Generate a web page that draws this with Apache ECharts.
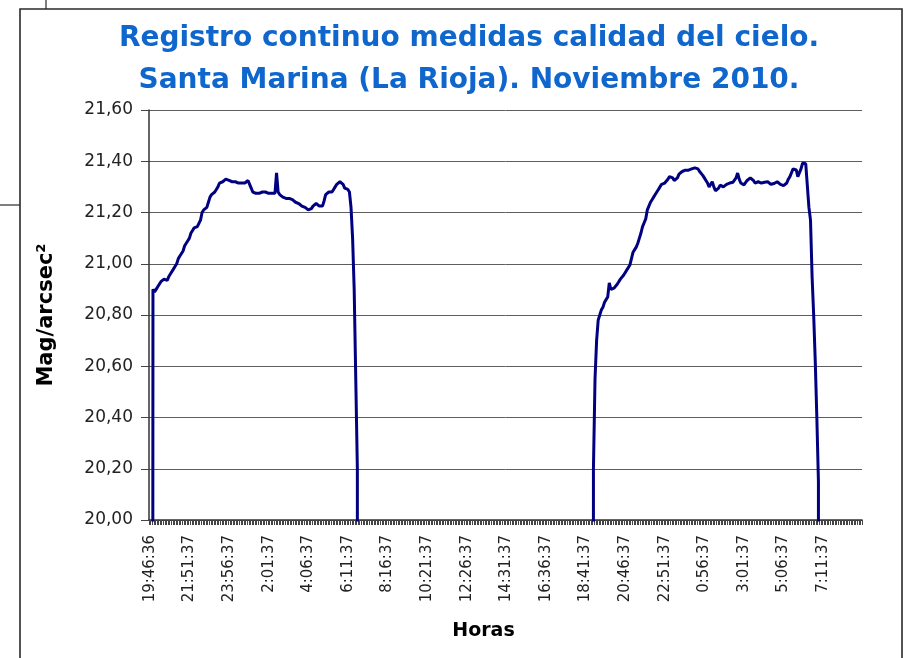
<!DOCTYPE html>
<html>
<head>
<meta charset="utf-8">
<script src="https://cdn.jsdelivr.net/npm/echarts@6/dist/echarts.min.js"></script>
<style>
html,body{margin:0;padding:0;background:#fff;}
#chart{width:907px;height:658px;}
</style>
</head>
<body>
<div id="chart"></div>
<script>
// ---- Data -------------------------------------------------------------
const titleLines = ['Registro continuo medidas calidad del cielo.', 'Santa Marina (La Rioja). Noviembre 2010.'];
const yTickValues = [20.00, 20.20, 20.40, 20.60, 20.80, 21.00, 21.20, 21.40, 21.60];
const firstCategory = '19:46:36';      // first reading
const secondCategory = '19:51:37';     // readings then every 5 minutes
const stepMinutes = 5;
const categoryCount = 450;

// Night 1 (Mag/arcsec2), starting at the first category; 0 = daylight reading (off scale)
const night1Start = '19:46:36';
const night1Values = [
  0, 0, 20.90, 20.89, 20.90, 20.91, 20.92, 20.93, 20.925, 20.94,
  20.935, 20.935, 20.95, 20.96, 20.965, 20.98, 20.99, 21.00, 21.02, 21.03,
  21.04, 21.05, 21.07, 21.08, 21.09, 21.10, 21.12, 21.13, 21.14, 21.14,
  21.145, 21.15, 21.17, 21.20, 21.21, 21.21, 21.22, 21.24, 21.26, 21.27,
  21.275, 21.28, 21.29, 21.30, 21.315, 21.315, 21.32, 21.325, 21.33, 21.325,
  21.325, 21.32, 21.32, 21.315, 21.32, 21.32, 21.315, 21.31, 21.315, 21.31,
  21.315, 21.315, 21.325, 21.31, 21.295, 21.28, 21.275, 21.275, 21.27, 21.275,
  21.275, 21.28, 21.28, 21.28, 21.28, 21.275, 21.275, 21.275, 21.28, 21.275,
  21.355, 21.28, 21.27, 21.265, 21.26, 21.26, 21.255, 21.25, 21.255, 21.25,
  21.25, 21.245, 21.24, 21.24, 21.235, 21.23, 21.225, 21.225, 21.22, 21.215,
  21.21, 21.21, 21.215, 21.225, 21.23, 21.235, 21.23, 21.225, 21.22, 21.225,
  21.245, 21.27, 21.275, 21.28, 21.28, 21.28, 21.29, 21.30, 21.31, 21.315,
  21.32, 21.32, 21.31, 21.295, 21.29, 21.29, 21.28, 21.22, 21.10, 20.90,
  20.55, 20.20, 0
];

// Night 2
const night2Start = '19:01:37';
const night2Values = [
  0, 20.20, 20.55, 20.70, 20.78, 20.80, 20.82, 20.83, 20.85, 20.86,
  20.87, 20.925, 20.90, 20.90, 20.905, 20.91, 20.92, 20.93, 20.94, 20.945,
  20.955, 20.965, 20.975, 20.985, 20.995, 21.02, 21.045, 21.055, 21.065, 21.08,
  21.10, 21.12, 21.145, 21.16, 21.175, 21.21, 21.225, 21.24, 21.25, 21.26,
  21.27, 21.28, 21.29, 21.30, 21.31, 21.31, 21.315, 21.315, 21.33, 21.34,
  21.34, 21.335, 21.325, 21.32, 21.335, 21.35, 21.355, 21.36, 21.365, 21.365,
  21.37, 21.365, 21.37, 21.37, 21.372, 21.374, 21.374, 21.37, 21.36, 21.355,
  21.345, 21.335, 21.325, 21.315, 21.30, 21.31, 21.32, 21.30, 21.285, 21.28,
  21.295, 21.307, 21.305, 21.30, 21.307, 21.31, 21.312, 21.315, 21.32, 21.318,
  21.32, 21.335, 21.354, 21.33, 21.315, 21.31, 21.308, 21.31, 21.325, 21.33,
  21.335, 21.34, 21.325, 21.315, 21.318, 21.32, 21.32, 21.315, 21.315, 21.318,
  21.32, 21.32, 21.315, 21.31, 21.31, 21.313, 21.318, 21.32, 21.315, 21.31,
  21.305, 21.305, 21.307, 21.315, 21.33, 21.34, 21.355, 21.37, 21.374, 21.366,
  21.34, 21.335, 21.37, 21.393, 21.397, 21.39, 21.39, 21.22, 21.17, 20.95,
  20.80, 20.62, 20.40, 20.15, 0
];

// ---- Build categories (clock times) -----------------------------------
function toMin(t){const p=t.split(':').map(Number);return p[0]*60+p[1];}
const categories = [firstCategory];
{
  const sec = secondCategory.split(':')[2];
  let m = toMin(secondCategory);
  for (let k = 1; k < categoryCount; k++) {
    const mm = ((m % 1440) + 1440) % 1440;
    categories.push(Math.floor(mm/60) + ':' + String(mm%60).padStart(2,'0') + ':' + sec);
    m += stepMinutes;
  }
}
const n1 = categories.indexOf(night1Start);
const n2 = categories.indexOf(night2Start, 200);
const night1Data = night1Values.map((v,i)=>[n1+i, v]);
const night2Data = night2Values.map((v,i)=>[n2+i, v]);

// ---- Chart -------------------------------------------------------------
const FONT = 'DejaVu Sans';
const chart = echarts.init(document.getElementById('chart'), null, {renderer:'canvas'});
chart.setOption({
  animation: false,
  backgroundColor: '#ffffff',
  title: {
    text: titleLines.join('\n'),
    left: 464, top: 13, textAlign: 'center',
    textStyle: {fontFamily: FONT, fontSize: 28, fontWeight: 'bold', color: '#0f66cc', lineHeight: 42}
  },
  grid: {left: 149, right: 45, top: 110, bottom: 138, containLabel: false},
  xAxis: {
    type: 'category',
    data: categories,
    boundaryGap: true,
    name: 'Horas',
    nameLocation: 'middle',
    nameGap: 102,
    nameTextStyle: {fontFamily: FONT, fontSize: 19, fontWeight: 'bold', color: '#000', padding: [0, 44, 0, 0]},
    axisLine: {show: true, lineStyle: {color: '#333', width: 1.5}},
    axisTick: {show: true, interval: 0, length: 5, lineStyle: {color: '#444', width: 1}},
    axisLabel: {interval: 24, rotate: 90, margin: 15, fontFamily: FONT, fontSize: 15, color: '#222'},
    splitLine: {show: false}
  },
  yAxis: {
    type: 'value',
    min: yTickValues[0], max: yTickValues[yTickValues.length-1], interval: 0.2,
    name: 'Mag/arcsec²',
    nameLocation: 'middle',
    nameGap: 92,
    nameTextStyle: {fontFamily: FONT, fontSize: 21, fontWeight: 'bold', color: '#000'},
    axisLine: {show: true, lineStyle: {color: '#333', width: 1.5}},
    axisTick: {show: true, length: 8, lineStyle: {color: '#444'}},
    axisLabel: {margin: 16, fontFamily: FONT, fontSize: 17, color: '#222',
      formatter: v => v.toFixed(2).replace('.', ',')},
    splitLine: {show: true, lineStyle: {color: '#5e5e5e', width: 1}}
  },
  series: [
    {type: 'line', data: night1Data, showSymbol: false, symbol: 'none', clip: true,
     lineStyle: {color: '#000080', width: 3}, itemStyle: {color: '#000080'}},
    {type: 'line', data: night2Data, showSymbol: false, symbol: 'none', clip: true,
     lineStyle: {color: '#000080', width: 3}, itemStyle: {color: '#000080'}}
  ],
  graphic: [
    {type: 'rect', shape: {x: 20, y: 9, width: 882, height: 700}, style: {fill: null, stroke: '#2a2a2a', lineWidth: 1.6}, silent: true},
    {type: 'line', shape: {x1: 46, y1: 0, x2: 46, y2: 9}, style: {stroke: '#2a2a2a', lineWidth: 1.2}, silent: true},
    {type: 'line', shape: {x1: 0, y1: 205, x2: 20, y2: 205}, style: {stroke: '#2a2a2a', lineWidth: 1.2}, silent: true}
  ]
});
</script>
</body>
</html>
